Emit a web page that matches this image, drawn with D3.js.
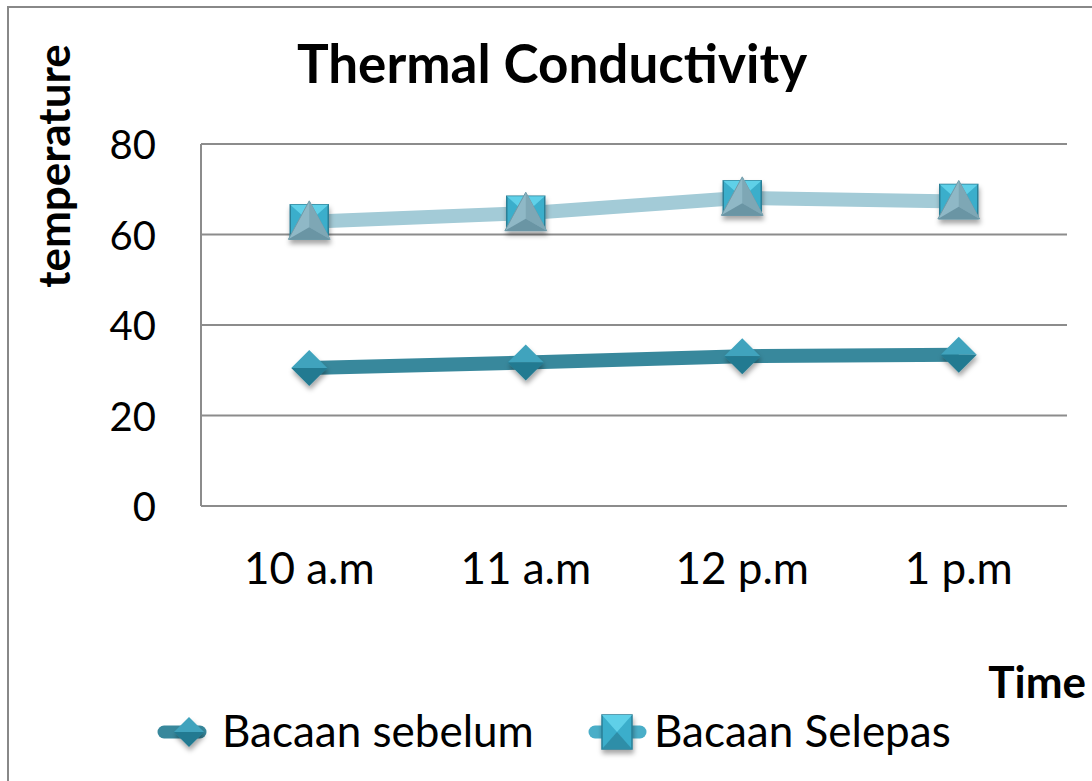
<!DOCTYPE html>
<html>
<head>
  <meta charset="utf-8"/>
  <title>Thermal Conductivity</title>
  <style>
    body { margin: 0; background: #fff; }
    text { font-family: Lato, "Open Sans", sans-serif; fill: #000; }
  </style>
  <script src="https://d3js.org/d3.v7.min.js"></script>
</head>
<body>
<div id="chart"></div>
<script>
// chart data
var categories = ["10 a.m", "11 a.m", "12 p.m", "1 p.m"];
var sebelum = [30.5, 31.7, 33.1, 33.4];
var selepas = [62.8, 64.7, 68.1, 67.3];
var yTicks = [0, 20, 40, 60, 80];
var seriesNames = ["Bacaan sebelum", "Bacaan Selepas"];

var width = 1092, height = 781;
var plot = { left: 201, right: 1067, top: 144, bottom: 506 };

var svg = d3.select("#chart").append("svg")
    .attr("width", width)
    .attr("height", height);

var defs = svg.append("defs");
var shadow = defs.append("filter").attr("id", "shadow")
    .attr("x", "-50%").attr("y", "-50%").attr("width", "200%").attr("height", "200%");
shadow.append("feDropShadow").attr("dx", 1).attr("dy", 4).attr("stdDeviation", 2.5)
    .attr("flood-color", "#000").attr("flood-opacity", 0.35);

// outer chart border
svg.append("rect")
    .attr("x", 8).attr("y", 7).attr("width", 1100).attr("height", 800)
    .attr("fill", "none").attr("stroke", "#888").attr("stroke-width", 2);

var x = d3.scaleBand().domain(categories).range([plot.left, plot.right]);
var y = d3.scaleLinear().domain([0, 80]).range([plot.bottom, plot.top]);

// gridlines
svg.append("g").selectAll("line")
  .data(yTicks)
  .enter().append("line")
    .attr("x1", plot.left).attr("x2", plot.right)
    .attr("y1", function(d) { return y(d); })
    .attr("y2", function(d) { return y(d); })
    .attr("stroke", "#8c8c8c").attr("stroke-width", 2);

// left axis line
svg.append("line")
    .attr("x1", plot.left).attr("x2", plot.left)
    .attr("y1", plot.top).attr("y2", plot.bottom)
    .attr("stroke", "#8c8c8c").attr("stroke-width", 2);

// y tick labels
svg.append("g").selectAll("text")
  .data(yTicks)
  .enter().append("text")
    .attr("x", 156)
    .attr("y", function(d) { return y(d) + 15; })
    .attr("text-anchor", "end")
    .style("font-size", "40px")
    .text(function(d) { return d; });

// x tick labels
svg.append("g").selectAll("text")
  .data(categories)
  .enter().append("text")
    .attr("x", function(d) { return x(d) + x.bandwidth() / 2; })
    .attr("y", 584)
    .attr("text-anchor", "middle")
    .style("font-size", "44px")
    .text(function(d) { return d; });

// titles
svg.append("text")
    .attr("x", 552).attr("y", 83)
    .attr("text-anchor", "middle")
    .style("font-size", "53px").style("font-weight", "bold")
    .text("Thermal Conductivity");

svg.append("text")
    .attr("transform", "translate(70,166) rotate(-90)")
    .attr("text-anchor", "middle")
    .style("font-size", "44px").style("font-weight", "bold")
    .text("temperature");

svg.append("text")
    .attr("x", 1086).attr("y", 698)
    .attr("text-anchor", "end")
    .style("font-size", "44px").style("font-weight", "bold")
    .text("Time");

var line = d3.line()
    .x(function(d, i) { return x(categories[i]) + x.bandwidth() / 2; })
    .y(function(d) { return y(d); });

svg.append("path").datum(selepas)
    .attr("d", line).attr("fill", "none")
    .attr("stroke", "#a3cbd7").attr("stroke-width", 14);

svg.append("path").datum(sebelum)
    .attr("d", line).attr("fill", "none")
    .attr("stroke", "#38889c").attr("stroke-width", 14);

// marker helpers
function diamond(g, cx, cy, r) {
  var m = g.append("g").attr("filter", "url(#shadow)");
  m.append("path")
    .attr("d", "M" + (cx - r) + "," + cy + "L" + cx + "," + (cy - r) + "L" + (cx + r) + "," + cy + "Z")
    .attr("fill", "#3fa3bd");
  m.append("path")
    .attr("d", "M" + (cx - r) + "," + cy + "L" + cx + "," + (cy + r) + "L" + (cx + r) + "," + cy + "Z")
    .attr("fill", "#237a91");
}

function square(g, cx, cy, h, w) {
  var m = g.append("g").attr("filter", "url(#shadow)");
  m.append("rect")
    .attr("x", cx - w).attr("y", cy - h).attr("width", 2 * w).attr("height", 2 * h)
    .attr("fill", "#3aaecb").attr("stroke", "#2a7f96").attr("stroke-width", 1.5);
  m.append("path")
    .attr("d", "M" + (cx - w) + "," + (cy - h) + "L" + (cx + w) + "," + (cy - h) + "L" + cx + "," + cy + "Z")
    .attr("fill", "#5fd0e8");
  m.append("path")
    .attr("d", "M" + (cx - w) + "," + (cy + h) + "L" + (cx + w) + "," + (cy + h) + "L" + cx + "," + cy + "Z")
    .attr("fill", "#2f8ea8");
  return m;
}

function triangle(g, cx, cy, s) {
  g.append("path")
    .attr("d", "M" + cx + "," + (cy - s) + "L" + (cx + s * 0.95) + "," + (cy + s * 0.75) + "L" + (cx - s * 0.95) + "," + (cy + s * 0.75) + "Z")
    .attr("fill", "#8fb8c6").attr("stroke", "#6f9aa8").attr("stroke-width", 1);
  g.append("path")
    .attr("d", "M" + cx + "," + (cy - s) + "L" + (cx + s * 0.95) + "," + (cy + s * 0.75) + "L" + cx + "," + (cy + s * 0.2) + "Z")
    .attr("fill", "#7ea7b5");
  g.append("path")
    .attr("d", "M" + (cx - s * 0.95) + "," + (cy + s * 0.75) + "L" + (cx + s * 0.95) + "," + (cy + s * 0.75) + "L" + cx + "," + (cy + s * 0.2) + "Z")
    .attr("fill", "#6a95a4");
}

var markers = svg.append("g");
sebelum.forEach(function(v, i) {
  diamond(markers, x(categories[i]) + x.bandwidth() / 2, y(v), 18);
});
selepas.forEach(function(v, i) {
  var cx = x(categories[i]) + x.bandwidth() / 2, cy = y(v);
  var m = square(markers, cx, cy, 17, 19);
  triangle(m, cx, cy + 1, 22);
});

// legend
var legend = svg.append("g");
legend.append("line")
    .attr("x1", 164).attr("x2", 200).attr("y1", 732).attr("y2", 732)
    .attr("stroke", "#38889c").attr("stroke-width", 13).attr("stroke-linecap", "round");
diamond(legend, 189, 732, 15);
legend.append("text")
    .attr("x", 222).attr("y", 747)
    .style("font-size", "44px")
    .text(seriesNames[0]);

legend.append("line")
    .attr("x1", 595).attr("x2", 640).attr("y1", 732).attr("y2", 732)
    .attr("stroke", "#4aaec8").attr("stroke-width", 13).attr("stroke-linecap", "round");
square(legend, 617, 732, 17, 15);
legend.append("text")
    .attr("x", 654).attr("y", 747)
    .style("font-size", "44px")
    .text(seriesNames[1]);
</script>
</body>
</html>
